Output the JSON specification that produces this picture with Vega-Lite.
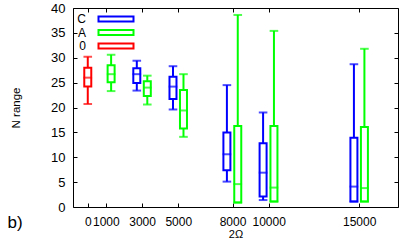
{
  "$schema": "https://vega.github.io/schema/vega-lite/v6.json",
  "width": 325,
  "height": 199,
  "autosize": "none",
  "padding": {"left": 73, "top": 8, "right": 9, "bottom": 37},
  "background": "white",
  "config": {
    "font": "Liberation Sans",
    "view": {"stroke": "black", "strokeWidth": 1},
    "axis": {"grid": false, "domain": false, "tickColor": "black", "labelColor": "black", "titleColor": "black", "labelFont": "Liberation Sans", "titleFont": "Liberation Sans", "titleFontWeight": "normal"}
  },
  "title": {"text": "b)", "orient": "left", "anchor": "start", "angle": 0, "align": "left", "baseline": "alphabetic", "fontSize": 17, "fontWeight": "normal", "font": "Liberation Sans", "color": "black", "offset": 0, "dx": 12, "dy": -11},
  "data": {"values": [
    {"s": "0", "x": 0, "p": 0, "lo": 20.7, "q1": 24.2, "med": 26.0, "q3": 28.0, "hi": 30.2},
    {"s": "A", "x": 1000, "p": 1290, "lo": 23.3, "q1": 25.1, "med": 26.7, "q3": 28.5, "hi": 30.6},
    {"s": "C", "x": 3000, "p": 2710, "lo": 23.4, "q1": 24.9, "med": 26.7, "q3": 27.9, "hi": 29.4},
    {"s": "A", "x": 3000, "p": 3290, "lo": 20.6, "q1": 22.3, "med": 24.0, "q3": 25.3, "hi": 26.4},
    {"s": "C", "x": 5000, "p": 4710, "lo": 19.6, "q1": 21.7, "med": 24.2, "q3": 26.2, "hi": 28.3},
    {"s": "A", "x": 5000, "p": 5290, "lo": 14.1, "q1": 15.8, "med": 19.4, "q3": 23.5, "hi": 26.7},
    {"s": "C", "x": 8000, "p": 7690, "lo": 5.1, "q1": 7.4, "med": 10.6, "q3": 15.0, "hi": 24.5},
    {"s": "A", "x": 8000, "p": 8290, "lo": 0.9, "q1": 0.9, "med": 4.6, "q3": 16.3, "hi": 38.6},
    {"s": "C", "x": 10000, "p": 9690, "lo": 1.4, "q1": 2.1, "med": 6.9, "q3": 12.8, "hi": 19.0},
    {"s": "A", "x": 10000, "p": 10290, "lo": 1.1, "q1": 1.1, "med": 3.9, "q3": 16.3, "hi": 35.4},
    {"s": "C", "x": 15000, "p": 14710, "lo": 1.1, "q1": 1.1, "med": 4.1, "q3": 13.9, "hi": 28.7},
    {"s": "A", "x": 15000, "p": 15290, "lo": 1.1, "q1": 1.1, "med": 3.8, "q3": 16.1, "hi": 31.8}
  ]},
  "resolve": {"axis": {"x": "independent", "y": "independent"}},
  "layer": [
    {
      "mark": {"type": "rule", "strokeWidth": 2},
      "encoding": {
        "x": {"field": "p", "type": "quantitative", "scale": {"domain": [-540, 16870], "nice": false, "zero": false},
              "axis": {"orient": "bottom", "values": [0, 1000, 3000, 5000, 8000, 10000, 15000], "format": "d", "labelOverlap": false, "labelFlush": false, "tickSize": -4, "labelPadding": 13, "labelFontSize": 12, "title": "2Ω", "titleFontSize": 11, "titlePadding": 1}},
        "y": {"field": "lo", "type": "quantitative", "scale": {"domain": [0, 40], "nice": false},
              "axis": {"orient": "left", "values": [0, 5, 10, 15, 20, 25, 30, 35, 40], "tickSize": -4, "labelPadding": 12, "labelFontSize": 13, "title": "N range", "titleFontSize": 11.5, "titlePadding": 29}},
        "y2": {"field": "q1"},
        "color": {"field": "s", "type": "nominal", "scale": {"domain": ["C", "A", "0"], "range": ["#0000ff", "#00ff00", "#ff0000"]},
                  "legend": {"orient": "none", "legendX": 37, "legendY": 5, "title": null, "labelAlign": "right", "labelOffset": -36, "symbolType": "M-7,-1H7V1H-7Z", "symbolSize": 25, "symbolStrokeWidth": 2, "symbolFillColor": "white", "labelFontSize": 12, "rowPadding": -0.5}}
      }
    },
    {
      "mark": {"type": "rule", "strokeWidth": 2},
      "encoding": {
        "x": {"field": "p", "type": "quantitative", "axis": {"orient": "top", "values": [0, 1000, 3000, 5000, 8000, 10000, 15000], "labels": false, "tickSize": -4, "title": null}},
        "y": {"field": "q3", "type": "quantitative", "axis": {"orient": "right", "values": [0, 5, 10, 15, 20, 25, 30, 35, 40], "labels": false, "tickSize": -4, "title": null}},
        "y2": {"field": "hi"},
        "color": {"field": "s", "type": "nominal"}
      }
    },
    {
      "mark": {"type": "bar", "filled": false, "size": 7, "strokeWidth": 2},
      "encoding": {
        "x": {"field": "p", "type": "quantitative", "axis": null},
        "y": {"field": "q1", "type": "quantitative", "axis": null},
        "y2": {"field": "q3"},
        "color": {"field": "s", "type": "nominal"}
      }
    },
    {
      "mark": {"type": "tick", "orient": "horizontal", "size": 7, "thickness": 0.4, "filled": false, "strokeWidth": 1.6},
      "encoding": {
        "x": {"field": "p", "type": "quantitative", "axis": null},
        "y": {"field": "med", "type": "quantitative", "axis": null},
        "color": {"field": "s", "type": "nominal"}
      }
    },
    {
      "mark": {"type": "tick", "orient": "horizontal", "size": 7, "thickness": 0.4, "filled": false, "strokeWidth": 1.6},
      "encoding": {
        "x": {"field": "p", "type": "quantitative", "axis": null},
        "y": {"field": "lo", "type": "quantitative", "axis": null},
        "color": {"field": "s", "type": "nominal"}
      }
    },
    {
      "mark": {"type": "tick", "orient": "horizontal", "size": 7, "thickness": 0.4, "filled": false, "strokeWidth": 1.6},
      "encoding": {
        "x": {"field": "p", "type": "quantitative", "axis": null},
        "y": {"field": "hi", "type": "quantitative", "axis": null},
        "color": {"field": "s", "type": "nominal"}
      }
    }
  ]
}
